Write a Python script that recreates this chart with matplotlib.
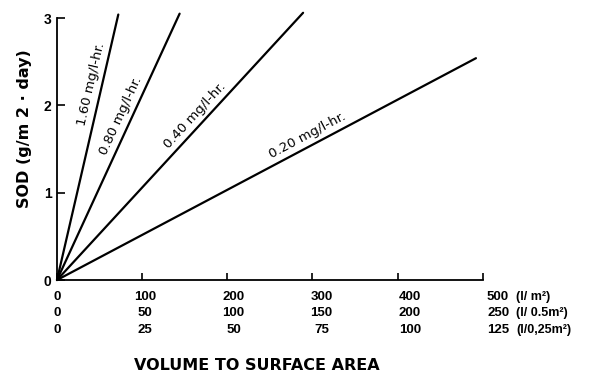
import numpy as np
import matplotlib.pyplot as plt

# Lines: oxygen uptake rate labels and the end point of each line (V/A in l/m2, SOD)
rates = ["1.60", "0.80", "0.40", "0.20"]
end_x = [72, 144, 289, 492]
end_y = [3.04, 3.05, 3.06, 2.54]

# where each label sits along its line (fraction of the line length)
label_frac = [0.73, 0.60, 0.59, 0.61]

# Three scales on the x axis
row1 = [0, 100, 200, 300, 400, 500]
row2 = [0, 50, 100, 150, 200, 250]
row3 = [0, 25, 50, 75, 100, 125]
row_units = ["(l/ m²)", "(l/ 0.5m²)", "(l/0,25m²)"]

y_ticks = [0, 1, 2, 3]

plt.rcParams["font.family"] = ["Liberation Sans", "DejaVu Sans"]

fig = plt.figure(figsize=(5.93, 3.74), dpi=100)
ax = fig.add_axes([0.0961, 0.2513, 0.718, 0.7005])

ax.set_xlim(0, 500)
ax.set_ylim(0, 3)

for x1, y1 in zip(end_x, end_y):
    ax.plot([0, x1], [0, y1], color="black", lw=1.6, clip_on=False,
            solid_capstyle="round")

# rotated labels along the lines
fig.canvas.draw()
for rate, x1, y1, f in zip(rates, end_x, end_y, label_frac):
    p0 = ax.transData.transform((0, 0))
    p1 = ax.transData.transform((x1, y1))
    ang = np.degrees(np.arctan2(p1[1] - p0[1], p1[0] - p0[0]))
    off = 7.5
    ax.annotate(rate + " mg/l-hr.", xy=(x1 * f, y1 * f),
                xytext=(-np.sin(np.radians(ang)) * off, np.cos(np.radians(ang)) * off),
                textcoords="offset points", rotation=ang, rotation_mode="anchor",
                ha="center", va="center", fontsize=9.5, family="DejaVu Sans")

for s in ["top", "right"]:
    ax.spines[s].set_visible(False)
ax.spines["left"].set_linewidth(1.3)
ax.spines["bottom"].set_linewidth(1.3)

ax.set_yticks(y_ticks)
ax.set_yticklabels([str(v) for v in y_ticks], fontsize=10, fontweight="bold")
ax.tick_params(axis="y", direction="in", length=6, width=1.2, pad=4)
ax.set_xticks(row1)
ax.set_xticklabels([])
ax.tick_params(axis="x", direction="in", length=5, width=1.2)

# three rows of x labels, a bit spread out as in the printed figure
spread = 1.036
rows = [row1, row2, row3]
row_pos = [-0.065, -0.126, -0.191]
tr = ax.get_xaxis_transform()
for vals, yp, unit in zip(rows, row_pos, row_units):
    for base, v in zip(row1, vals):
        ax.text(base * spread, yp, str(v), transform=tr, ha="center", va="center",
                fontsize=9.5, fontweight="bold", clip_on=False)
    ax.text(539, yp, unit, transform=tr, ha="left", va="center",
            fontsize=9, fontweight="bold", clip_on=False)

fig.text(0.433, 0.024, "VOLUME TO SURFACE AREA", ha="center", va="center",
         fontsize=11.5, fontweight="bold", family="DejaVu Sans")
fig.text(0.042, 0.655, "SOD (g/m 2 · day)", ha="center", va="center",
         rotation=90, fontsize=11.5, fontweight="bold", family="DejaVu Sans")

fig.savefig("out.png", dpi=100)
